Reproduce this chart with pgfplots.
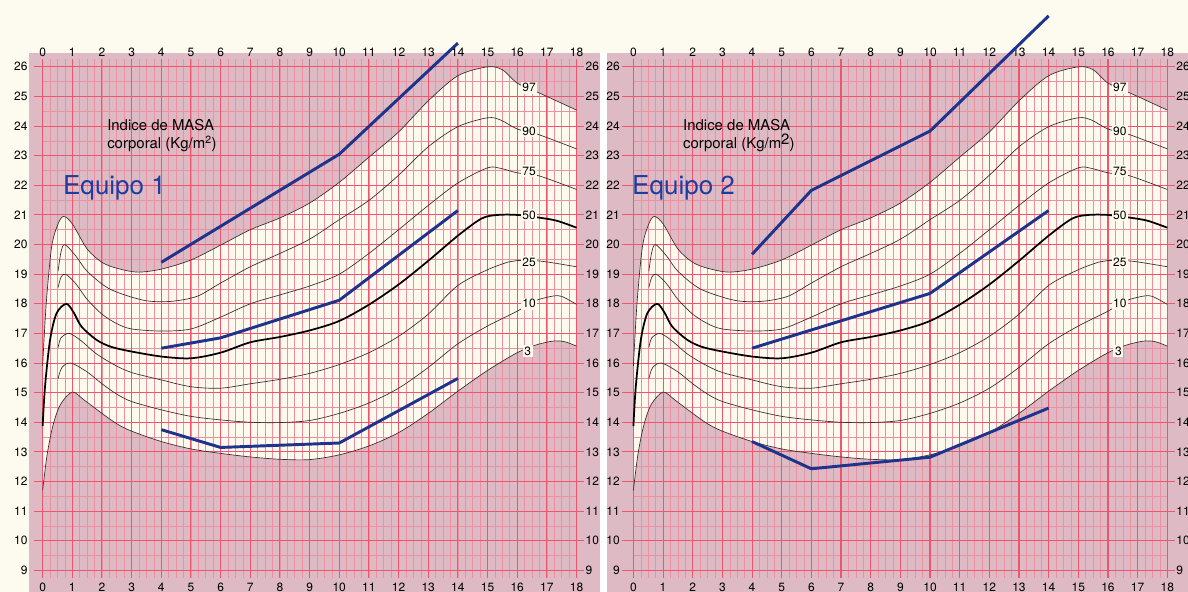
\documentclass[border=0pt]{standalone}
\usepackage{fontspec}
\setmainfont{TeX Gyre Heros}
\usepackage{pgfplots}
\usepgfplotslibrary{fillbetween}
\usepackage{pgfplotstable}
\pgfplotsset{compat=1.18}
\definecolor{pinkbg}{RGB}{221,186,196}
\definecolor{majgrid}{RGB}{240,85,110}
\definecolor{mingrid}{RGB}{236,145,162}
\definecolor{cream}{RGB}{254,249,237}
\definecolor{topcream}{RGB}{253,251,240}
\definecolor{teamblue}{RGB}{30,52,140}
\definecolor{textblue}{RGB}{28,62,160}
\definecolor{curvecol}{RGB}{55,45,45}

\pgfplotstableread{
x y
0 15.9
0.12 18.0
0.3 19.9
0.5 20.65
0.7 20.95
1.0 20.7
1.5 19.85
2 19.4
2.5 19.2
3.2 19.07
4 19.17
5 19.48
6 19.98
7 20.5
8 20.9
9 21.4
10 22.1
11 22.95
12 23.8
13 24.85
14 25.7
15 26.0
15.5 25.9
16 25.45
16.6 25.18
17 25.0
18 24.54
}\pninetyseven

\pgfplotstableread{
x y
0.52 19.1
0.62 19.75
0.75 20.0
1.13 19.6
1.5 19.1
2.26 18.5
3.4 18.12
4.3 18.08
5.2 18.25
6 18.7
7 19.25
8 19.7
9 20.18
10 20.84
11 21.49
12 22.34
13 23.3
14 23.98
15 24.28
15.45 24.2
16 23.9
16.7 23.72
18 23.23
}\pninety

\pgfplotstableread{
x y
0.52 18.55
0.62 18.9
0.77 19.0
1.1 18.7
1.5 18.15
2 17.65
2.5 17.33
3 17.15
4 17.08
5 17.15
6 17.55
7 18.0
8 18.3
9 18.6
10 19.0
11 19.7
12 20.5
13 21.32
14 22.08
15 22.59
15.45 22.57
16 22.42
16.7 22.33
18 21.86
}\pseventyfive

\pgfplotstableread{
x y
0 13.87
0.08 15.2
0.25 16.78
0.47 17.68
0.8 18.0
1.05 17.7
1.31 17.23
1.82 16.78
2.3 16.55
2.94 16.4
4 16.22
5 16.16
6 16.35
7 16.7
8 16.88
9 17.1
10 17.42
11 17.97
12 18.65
13 19.45
14 20.3
14.8 20.88
15.35 21.0
16 21.0
16.8 20.9
17.35 20.8
18 20.57
}\pfifty

\pgfplotstableread{
x y
0.52 16.52
0.62 16.85
0.9 17.0
1.3 16.75
1.8 16.32
2.4 15.95
3 15.68
4 15.43
5 15.2
6 15.15
7 15.3
8 15.45
9 15.65
10 15.95
11 16.35
12 16.9
13 17.65
14 18.62
15 19.15
15.7 19.41
16 19.46
16.8 19.44
18 19.25
}\ptwentyfive

\pgfplotstableread{
x y
0.52 15.47
0.65 15.85
0.95 16.0
1.5 15.7
2 15.3
2.5 14.95
3 14.7
4 14.42
5 14.2
6 14.08
7 14.0
8 13.99
9 14.06
10 14.3
11 14.65
12 15.15
13 15.85
14 16.65
15 17.25
16 17.75
16.6 18.1
17.2 18.26
17.5 18.25
18 17.98
}\pten

\pgfplotstableread{
x y
0 11.7
0.15 12.9
0.35 13.9
0.6 14.6
1.0 15.02
1.4 14.75
2 14.3
2.5 13.95
3 13.7
4 13.35
5 13.1
6 12.95
7 12.83
8 12.75
9 12.74
10 12.9
11 13.2
12 13.65
13 14.3
14 15.05
15 15.75
16 16.35
16.6 16.6
17.2 16.74
17.6 16.72
18 16.57
}\pthree

% Equipo 1
\pgfplotstableread{
x y
4 19.4
10 23.05
14 26.8
}\eaTop
\pgfplotstableread{
x y
4 16.5
6 16.85
10 18.12
14 21.15
}\eaMid
\pgfplotstableread{
x y
4 13.75
6 13.15
10 13.3
14 15.48
}\eaLow
% Equipo 2
\pgfplotstableread{
x y
4 19.67
6 21.83
10 23.83
14 27.72
}\ebTop
\pgfplotstableread{
x y
4 16.5
10 18.35
14 21.15
}\ebMid
\pgfplotstableread{
x y
4 13.35
6 12.43
10 12.82
14 14.48
}\ebLow

\newcommand{\ticksize}{\fontsize{9}{10}\selectfont}

\newcommand{\chartbody}[1]{%
  \addplot[draw=none, smooth, name path=ptop, forget plot] table {\pninetyseven};
  \addplot[draw=none, smooth, name path=pbot, forget plot] table {\pthree};
  \addplot[cream, forget plot] fill between[of=ptop and pbot];
  \pgfplotsinvokeforeach{0,0.25,...,18}{\draw[mingrid, line width=0.45pt] (axis cs:##1,8.75) -- (axis cs:##1,26.25);}
  \pgfplotsinvokeforeach{9.5,10.5,...,25.5}{\draw[mingrid, line width=0.45pt] (axis cs:0,##1) -- (axis cs:18,##1);}
  \pgfplotsinvokeforeach{0,...,18}{\draw[majgrid, line width=0.8pt] (axis cs:##1,8.75) -- (axis cs:##1,26.25);}
  \pgfplotsinvokeforeach{9,...,26}{\draw[majgrid, line width=0.8pt] (axis cs:#1,##1) -- (axis cs:18.25,##1);}
  \addplot[curvecol, line width=0.5pt, smooth] table {\pninetyseven};
  \addplot[curvecol, line width=0.5pt, smooth] table {\pninety};
  \addplot[curvecol, line width=0.5pt, smooth] table {\pseventyfive};
  \addplot[black, line width=1.3pt, smooth] table {\pfifty};
  \addplot[curvecol, line width=0.5pt, smooth] table {\ptwentyfive};
  \addplot[curvecol, line width=0.5pt, smooth] table {\pten};
  \addplot[curvecol, line width=0.5pt, smooth] table {\pthree};
  \node[fill=cream, inner sep=1.2pt, font=\ticksize] at (axis cs:16.4,25.3) {97};
  \node[fill=cream, inner sep=1.2pt, font=\ticksize] at (axis cs:16.4,23.83) {90};
  \node[fill=cream, inner sep=1.2pt, font=\ticksize] at (axis cs:16.4,22.48) {75};
  \node[fill=cream, inner sep=1.2pt, font=\ticksize] at (axis cs:16.4,21.0) {50};
  \node[fill=cream, inner sep=1.2pt, font=\ticksize] at (axis cs:16.4,19.4) {25};
  \node[fill=cream, inner sep=1.2pt, font=\ticksize] at (axis cs:16.4,18.0) {10};
  \node[fill=cream, inner sep=1.2pt, font=\ticksize] at (axis cs:16.35,16.4) {3};
}

\newcommand{\ticklabels}[1]{%
  \pgfplotsinvokeforeach{0,...,18}{\node[font=\ticksize, inner sep=0pt] at (axis cs:##1,26.49) {##1};
    \node[font=\ticksize, inner sep=0pt] at (axis cs:##1,8.44) {##1};}
  \pgfplotsinvokeforeach{9,...,26}{\node[font=\ticksize, anchor=east, inner sep=0pt] at (axis cs:#1,##1) {##1};
    \node[font=\ticksize, anchor=west, inner sep=0pt] at (axis cs:18.3,##1) {##1};}
}

\pgfplotsset{bmi/.style={set layers, x=22.245pt, y=22.215pt, ymin=8.27, ymax=26.47,
  axis line style={draw=none}, xtick=\empty, ytick=\empty, clip=false,
  axis background/.style={fill=pinkbg}, anchor=south west}}

\begin{document}
\begin{tikzpicture}
\fill[topcream] (0pt,404.25pt) rectangle (891pt,444pt);
\fill[topcream] (0pt,0pt) rectangle (21.75pt,404.25pt);
\begin{axis}[bmi, xmin=-0.46, xmax=18.79, at={(21.75pt,0pt)}]
  \chartbody{-0.3}
  \ticklabels{-0.5}
  \addplot[teamblue, line width=2.2pt] table {\eaTop};
  \addplot[teamblue, line width=2.2pt] table {\eaMid};
  \addplot[teamblue, line width=2.2pt] table {\eaLow};
  \node[anchor=west, align=left, inner sep=0pt, font=\fontsize{11.2}{13.8}\selectfont] at (axis cs:2.17,23.69) {Indice de MASA\\corporal (Kg/m\textsuperscript{2})};
  \node[anchor=base west, inner sep=0pt, text=textblue, font=\fontsize{19.5}{22}\selectfont] at (axis cs:0.68,21.68) {Equipo 1};
\end{axis}
\begin{axis}[bmi, xmin=-0.89, xmax=18.75, at={(455.25pt,0pt)}]
  \chartbody{-0.38}
  \ticklabels{-0.45}
  \addplot[teamblue, line width=2.2pt] table {\ebTop};
  \addplot[teamblue, line width=2.2pt] table {\ebMid};
  \addplot[teamblue, line width=2.2pt] table {\ebLow};
  \node[anchor=west, align=left, inner sep=0pt, font=\fontsize{11.2}{13.8}\selectfont] at (axis cs:1.67,23.69) {Indice de MASA\\corporal (Kg/m\raisebox{0.55ex}{2})};
  \node[anchor=base west, inner sep=0pt, text=textblue, font=\fontsize{19.5}{22}\selectfont] at (axis cs:-0.05,21.68) {Equipo 2};
\end{axis}
\pgfresetboundingbox
\path[use as bounding box] (0pt,0pt) rectangle (891pt,444pt);
\end{tikzpicture}
\end{document}
